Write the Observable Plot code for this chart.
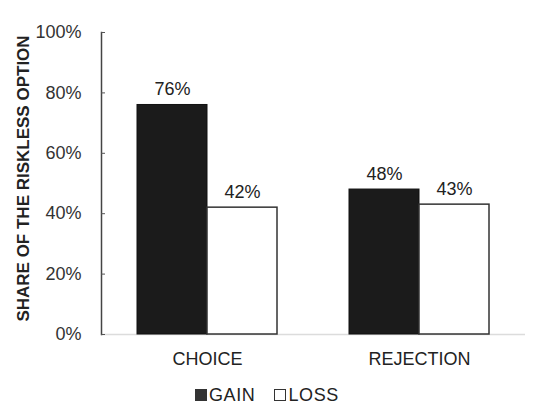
<!DOCTYPE html>
<html>
<head>
<meta charset="utf-8">
<script src="https://cdn.jsdelivr.net/npm/d3@7"></script>
<script src="https://cdn.jsdelivr.net/npm/@observablehq/plot@0.6"></script>
<style>
  html, body { margin: 0; padding: 0; background: #fff; }
  #chart { width: 540px; }
  .legend {
    font-family: "Liberation Sans", Arial, sans-serif;
    font-size: 18px;
    color: #222;
    display: flex;
    align-items: center;
    padding-left: 195px;
    height: 40px;
    letter-spacing: 0.6px;
  }
  .legend .item { display: flex; align-items: center; margin-right: 19px; }
  .legend .sw { width: 12px; height: 12px; box-sizing: border-box; margin-right: 2px; }
</style>
</head>
<body>
<div id="chart"></div>
<script>
// Share of the riskless option, by task and framing
const categories = ["CHOICE", "REJECTION"];
const frames = ["GAIN", "LOSS"];
const gainShare = [0.76, 0.48];
const lossShare = [0.42, 0.43];
const yTicks = [0, 0.2, 0.4, 0.6, 0.8, 1];
const yLabel = "SHARE OF THE RISKLESS OPTION";

const rows = categories.flatMap((c, i) => [
  {category: c, frame: "GAIN", value: gainShare[i]},
  {category: c, frame: "LOSS", value: lossShare[i]}
]);
const pct = d => Math.round(d * 100) + "%";
const font = "Liberation Sans, Arial, sans-serif";

const chart = Plot.plot({
  width: 540,
  height: 375,
  marginLeft: 101,
  marginRight: 15,
  marginTop: 32,
  marginBottom: 41,
  style: {fontFamily: font, background: "white", color: "#222"},
  fx: {domain: categories, paddingInner: 0, paddingOuter: 0, label: null},
  x: {domain: frames, paddingInner: 0, paddingOuter: 0.5, axis: null},
  y: {domain: [0, 1], axis: null},
  marks: [
    Plot.ruleY([0], {stroke: "#dcdcdc", strokeWidth: 1.5}),
    Plot.barY(rows.filter(d => d.frame === "GAIN"), {
      fx: "category", x: "frame", y: "value",
      fill: "#1b1b1b", stroke: "#111", strokeWidth: 1
    }),
    Plot.barY(rows.filter(d => d.frame === "LOSS"), {
      fx: "category", x: "frame", y: "value",
      fill: "white", stroke: "#333", strokeWidth: 1.5
    }),
    Plot.text(rows, {
      fx: "category", x: "frame", y: "value", text: d => pct(d.value),
      lineAnchor: "bottom", dy: -10, fontSize: 18, fill: "#222"
    }),
    Plot.frame({anchor: "left", facetAnchor: "left", stroke: "#444", strokeWidth: 1.5}),
    // inward tick marks
    Plot.axisY(yTicks, {anchor: "left", tickSize: 4, dx: 4, text: null, stroke: "#555", label: null}),
    // tick labels
    Plot.axisY(yTicks, {
      anchor: "left", tickSize: 0, tickPadding: 20, tickFormat: pct,
      fontSize: 18, fill: "#333", label: null
    }),
    Plot.text([yLabel], {
      frameAnchor: "left", facetAnchor: "left", textAnchor: "middle",
      rotate: -90, dx: -78, dy: -5,
      fontWeight: "bold", fontSize: 17, fill: "#222"
    }),
    Plot.axisFx({anchor: "bottom", tickSize: 0, tickPadding: 18, fontSize: 18, fill: "#222", label: null})
  ]
});
document.getElementById("chart").append(chart);

// Legend below the plot
const legend = document.createElement("div");
legend.className = "legend";
for (const f of frames) {
  const item = document.createElement("span");
  item.className = "item";
  const sw = document.createElement("span");
  sw.className = "sw";
  sw.style.background = f === "GAIN" ? "#333" : "#fff";
  sw.style.border = "1px solid #333";
  item.append(sw, document.createTextNode(f));
  legend.append(item);
}
document.getElementById("chart").append(legend);
</script>
</body>
</html>
